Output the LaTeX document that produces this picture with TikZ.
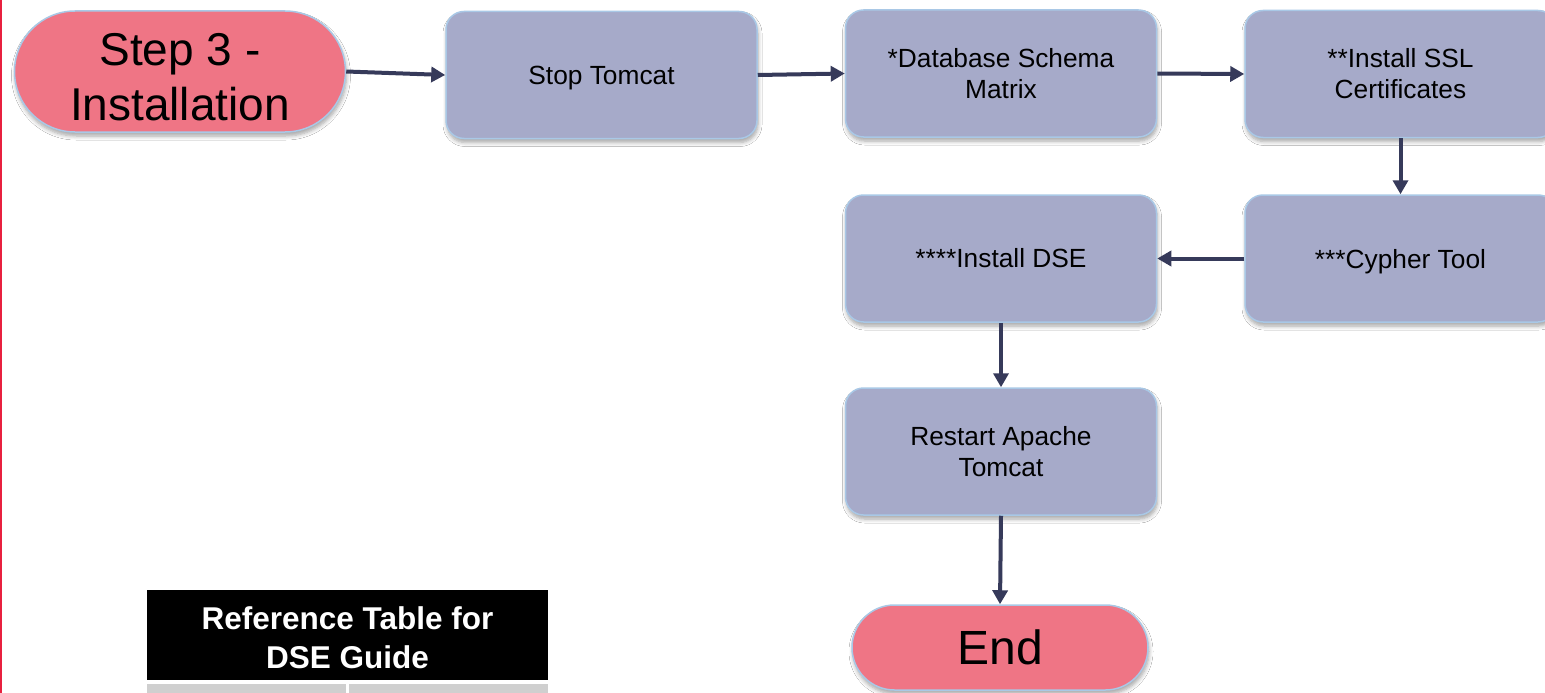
\documentclass[tikz,border=0pt]{standalone}
\usepackage{fontspec}
\setmainfont{Liberation Sans}
\usetikzlibrary{arrows.meta,shadows,shadows.blur,shapes.misc}
\definecolor{pillc}{HTML}{EF7585}
\definecolor{boxf}{HTML}{A6AAC9}
\definecolor{edgec}{HTML}{A9C8E6}
\definecolor{arrc}{HTML}{363A5A}
\definecolor{redl}{HTML}{E8203F}
\definecolor{cellc}{HTML}{CFCFCF}
\begin{document}
\begin{tikzpicture}[x=1pt,y=-1pt,
  shade/.style={blur shadow={shadow xshift=1pt,shadow yshift=-4pt,shadow blur radius=4pt,shadow blur steps=6,shadow opacity=35}},
  stepbox/.style={shade,draw=edgec,line width=1.5pt,fill=boxf,rounded corners=18pt,
    minimum width=311pt,minimum height=127pt,align=center,inner sep=2pt,
    font=\fontsize{26.3}{31}\selectfont},
  pillbox/.style={shade,draw=edgec,line width=1.5pt,fill=pillc,rounded rectangle,
    align=center,inner sep=2pt},
  flow/.style={draw=arrc,line width=4pt,-{Triangle[length=14pt,width=15pt]}}
]
\useasboundingbox (0,0) rectangle (1545,693);
\clip (0,0) rectangle (1545,693);
\fill[white] (0,0) rectangle (1545,693);
\fill[redl] (0,0) rectangle (1.6,693);

\node[pillbox,minimum width=335pt,minimum height=121pt] (s3) at (180,71.5) {};
\node[align=center,inner sep=0pt,font=\fontsize{46}{55}\selectfont] (s3t) at (180,77) {Step 3 -\\Installation};
\node[stepbox,text depth=0pt] (stop) at (601.5,75) {Stop Tomcat};
\node[stepbox] (db) at (1001,73.5) {*Database Schema\\Matrix};
\node[stepbox] (ssl) at (1400.5,74) {**Install SSL\\Certificates};
\node[stepbox,text depth=0pt] (cy) at (1400.5,258.5) {***Cypher Tool};
\node[stepbox] (dse) at (1001,258.5) {****Install DSE};
\node[stepbox] (rs) at (1001,451.5) {Restart Apache\\Tomcat};
\node[pillbox,minimum width=300pt,minimum height=85pt,font=\fontsize{48}{52}\selectfont] (end) at (1000,647.5) {End};

\fill[black] (147,590) rectangle (548,680);
\node[text=white,inner sep=0pt,align=center,
  font=\fontsize{31.5}{39}\selectfont\bfseries] (tab) at (347.5,638) {Reference Table for\\DSE Guide};
\fill[cellc] (147,684) rectangle (346,700);
\fill[cellc] (348.5,684) rectangle (548,700);

\draw[flow] (s3.east) -- (stop.west);
\draw[flow] (stop.east) -- (db.west);
\draw[flow] (db.east) -- (ssl.west);
\draw[flow] (ssl.south) -- (cy.north);
\draw[flow] (cy.west) -- (dse.east);
\draw[flow] (dse.south) -- (rs.north);
\draw[flow] (rs.south) -- (end.north);
\end{tikzpicture}
\end{document}
